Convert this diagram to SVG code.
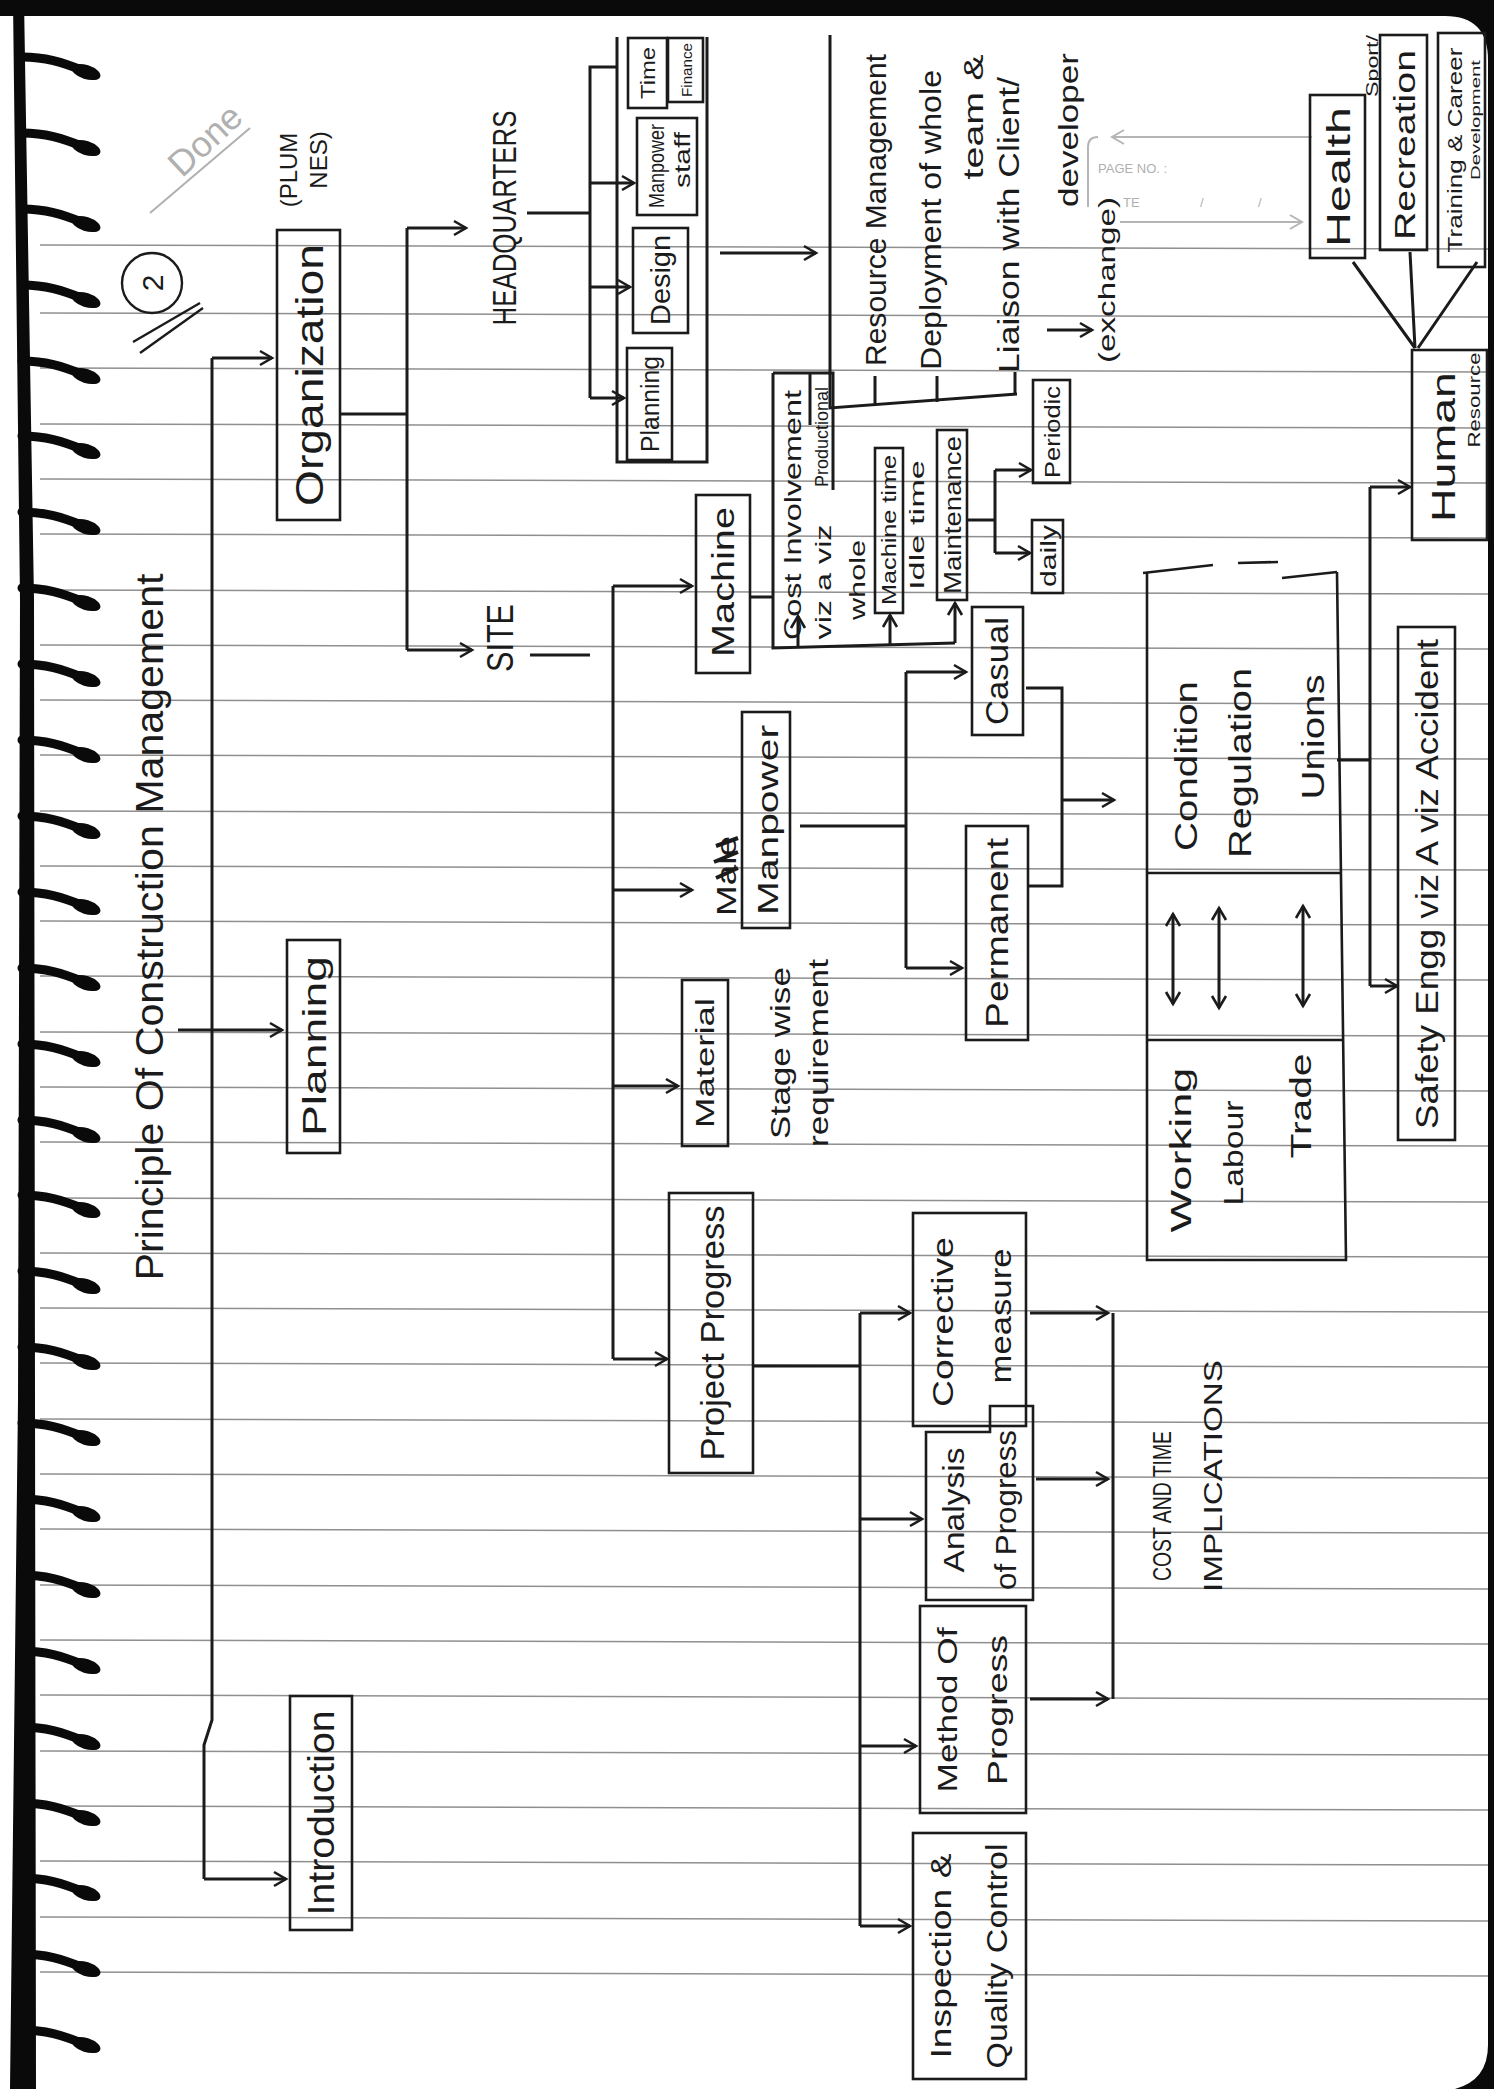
<svg xmlns="http://www.w3.org/2000/svg" width="1494" height="2089" viewBox="0 0 1494 2089">
<style>
.t{font-family:"Liberation Sans",Arial,sans-serif;fill:#1b1b1b;text-anchor:middle;dominant-baseline:central}
.b{fill:none;stroke:#1b1b1b;stroke-width:2.6}
.c{fill:none;stroke:#1b1b1b;stroke-width:3}
.a{marker-end:url(#ah)}
.d{marker-start:url(#ah2);marker-end:url(#ah)}
.rule{stroke:#8f8f8f;stroke-width:1.5}
.faint{fill:none;stroke:#b5b5b5;stroke-width:2}
.ft{font-family:"Liberation Sans",Arial,sans-serif;fill:#b0b0b0}
.ring{fill:none;stroke:#0a0a0a;stroke-width:9;stroke-linecap:round}
.blob{fill:#0a0a0a}
</style>
<defs>
<marker id="ah" markerUnits="userSpaceOnUse" markerWidth="18" markerHeight="18" refX="15" refY="9" orient="auto">
<path d="M3,2 L15,9 L3,16" fill="none" stroke="#1b1b1b" stroke-width="2.6"/>
</marker>
<marker id="ah2" markerUnits="userSpaceOnUse" markerWidth="18" markerHeight="18" refX="15" refY="9" orient="auto-start-reverse">
<path d="M3,2 L15,9 L3,16" fill="none" stroke="#1b1b1b" stroke-width="2.6"/>
</marker>
<marker id="ahg" markerUnits="userSpaceOnUse" markerWidth="18" markerHeight="18" refX="15" refY="9" orient="auto">
<path d="M3,2 L15,9 L3,16" fill="none" stroke="#b5b5b5" stroke-width="2"/>
</marker>
<g id="ringshape">
<path class="ring" d="M22,0 C45,0 62,5 84,14"/>
<ellipse class="blob" cx="86" cy="15" rx="15" ry="7" transform="rotate(18 86 15)"/>
</g>
</defs>

<!-- page -->
<rect x="0" y="0" width="1494" height="2089" fill="#ffffff"/>
<path d="M0,0 H1494 V2089 H1455 Q1488,2080 1488,2045 V60 Q1488,16 1445,16 H0 Z" fill="#0a0a0a"/>
<path d="M13,0 H24 L34,600 L35,1400 L36,2089 H10 L18,1400 L20,600 Z" fill="#0a0a0a"/>

<!-- ruled lines -->
<g id="rules">
<line class="rule" x1="40" y1="245" x2="1488" y2="249"/>
<line class="rule" x1="40" y1="313" x2="1488" y2="317"/>
<line class="rule" x1="40" y1="368" x2="1488" y2="372"/>
<line class="rule" x1="40" y1="424" x2="1488" y2="428"/>
<line class="rule" x1="40" y1="479" x2="1488" y2="483"/>
<line class="rule" x1="40" y1="534" x2="1488" y2="538"/>
<line class="rule" x1="40" y1="590" x2="1488" y2="594"/>
<line class="rule" x1="40" y1="645" x2="1488" y2="649"/>
<line class="rule" x1="40" y1="700" x2="1488" y2="704"/>
<line class="rule" x1="40" y1="755" x2="1488" y2="759"/>
<line class="rule" x1="40" y1="811" x2="1488" y2="815"/>
<line class="rule" x1="40" y1="866" x2="1488" y2="870"/>
<line class="rule" x1="40" y1="921" x2="1488" y2="925"/>
<line class="rule" x1="40" y1="976" x2="1488" y2="980"/>
<line class="rule" x1="40" y1="1032" x2="1488" y2="1036"/>
<line class="rule" x1="40" y1="1087" x2="1488" y2="1091"/>
<line class="rule" x1="40" y1="1142" x2="1488" y2="1146"/>
<line class="rule" x1="40" y1="1198" x2="1488" y2="1202"/>
<line class="rule" x1="40" y1="1253" x2="1488" y2="1257"/>
<line class="rule" x1="40" y1="1308" x2="1488" y2="1312"/>
<line class="rule" x1="40" y1="1363" x2="1488" y2="1367"/>
<line class="rule" x1="40" y1="1419" x2="1488" y2="1423"/>
<line class="rule" x1="40" y1="1474" x2="1488" y2="1478"/>
<line class="rule" x1="40" y1="1529" x2="1488" y2="1533"/>
<line class="rule" x1="40" y1="1585" x2="1488" y2="1589"/>
<line class="rule" x1="40" y1="1640" x2="1488" y2="1644"/>
<line class="rule" x1="40" y1="1695" x2="1488" y2="1699"/>
<line class="rule" x1="40" y1="1751" x2="1488" y2="1755"/>
<line class="rule" x1="40" y1="1806" x2="1488" y2="1810"/>
<line class="rule" x1="40" y1="1861" x2="1488" y2="1865"/>
<line class="rule" x1="40" y1="1917" x2="1488" y2="1921"/>
<line class="rule" x1="40" y1="1972" x2="1488" y2="1976"/>
</g>

<!-- spiral rings -->
<g id="spiral">
<use href="#ringshape" y="57"/>
<use href="#ringshape" y="133"/>
<use href="#ringshape" y="209"/>
<use href="#ringshape" y="285"/>
<use href="#ringshape" y="361"/>
<use href="#ringshape" y="436"/>
<use href="#ringshape" y="512"/>
<use href="#ringshape" y="588"/>
<use href="#ringshape" y="664"/>
<use href="#ringshape" y="740"/>
<use href="#ringshape" y="816"/>
<use href="#ringshape" y="892"/>
<use href="#ringshape" y="968"/>
<use href="#ringshape" y="1044"/>
<use href="#ringshape" y="1120"/>
<use href="#ringshape" y="1195"/>
<use href="#ringshape" y="1271"/>
<use href="#ringshape" y="1347"/>
<use href="#ringshape" y="1423"/>
<use href="#ringshape" y="1499"/>
<use href="#ringshape" y="1575"/>
<use href="#ringshape" y="1651"/>
<use href="#ringshape" y="1727"/>
<use href="#ringshape" y="1803"/>
<use href="#ringshape" y="1878"/>
<use href="#ringshape" y="1954"/>
<use href="#ringshape" y="2030"/>
</g>

<!-- page header marks -->
<g id="header">
<text class="ft" x="205" y="140" font-size="36" text-anchor="middle" dominant-baseline="central" transform="rotate(-43 205 140)">Done</text>
<line x1="150" y1="213" x2="250" y2="128" stroke="#b0b0b0" stroke-width="2"/>
<circle cx="152" cy="283" r="30" fill="none" stroke="#1b1b1b" stroke-width="2.4"/>
<text class="t" transform="translate(152,283) rotate(-90)" font-size="30">2</text>
<line x1="133" y1="342" x2="200" y2="303" stroke="#1b1b1b" stroke-width="2.4"/>
<line x1="140" y1="353" x2="203" y2="308" stroke="#1b1b1b" stroke-width="2.4"/>
<path class="faint" d="M1098,137 Q1088,137 1088,147 V207"/>
<text class="ft" x="1098" y="173" font-size="13">PAGE NO. :</text>
<text class="ft" x="1123" y="207" font-size="13">TE</text>
<text class="ft" x="1200" y="207" font-size="13">/</text>
<text class="ft" x="1258" y="207" font-size="13">/</text>
</g>

<!-- connectors -->
<g id="connectors">
<path class="c a" d="M212,358 H272"/>
<path class="c" d="M212,358 V1720 L204,1745 V1879"/>
<path class="c a" d="M204,1879 H286"/>
<path class="c a" d="M178,1030 H282"/>
<path class="c" d="M340,414 H407"/>
<path class="c" d="M407,228 V650"/>
<path class="c a" d="M407,228 H466"/>
<path class="c a" d="M407,650 H472"/>
<path class="c" d="M527,213 H590"/>
<path class="c" d="M616,67 H590 V398"/>
<path class="c a" d="M590,183 H634"/>
<path class="c a" d="M590,287 H630"/>
<path class="c a" d="M590,398 H624"/>
<path class="c" d="M617,37 V462 H707 V37"/>
<path class="c a" d="M720,253 H816"/>
<path class="c" d="M830,35 V408 L1017,394"/>
<path class="c" d="M875,406 V376 M937,402 V376 M1015,394 V372"/>
<path class="c a" d="M1047,330 H1092"/>
<path class="faint" d="M1312,137 H1112" marker-end="url(#ahg)"/>
<path class="faint" d="M1120,222 H1302" marker-end="url(#ahg)"/>
<path class="c" d="M1353,262 L1415,348 M1410,252 L1415,348 M1477,262 L1418,348"/>
<path class="c a" d="M1370,487 H1410"/>
<path class="c" d="M1370,487 V986 M1337,760 H1370"/>
<path class="c a" d="M1370,986 H1397"/>
<path class="c" d="M530,655 H590"/>
<path class="c" d="M613,586 V1359"/>
<path class="c a" d="M613,586 H692"/>
<path class="c a" d="M613,890 H692"/>
<path class="c a" d="M613,1086 H678"/>
<path class="c a" d="M613,1359 H667"/>
<path class="c" d="M750,597 H773 M773,373 V648 L955,643"/>
<path class="c" d="M773,373 H833 V490 M810,373 V425"/>
<path class="c a" d="M798,647 V616"/>
<path class="c a" d="M890,645 V615"/>
<path class="c a" d="M955,643 V603"/>
<path class="c" d="M967,520 H995 M995,470 V553"/>
<path class="c a" d="M995,470 H1031"/>
<path class="c a" d="M995,553 H1030"/>
<path class="c" d="M800,826 H906 M906,672 V968"/>
<path class="c a" d="M906,672 H966"/>
<path class="c a" d="M906,968 H962"/>
<path class="c" d="M1026,688 H1062 V886 H1028"/>
<path class="c a" d="M1062,800 H1114"/>
<path class="c" d="M753,1366 H860 M860,1313 V1926"/>
<path class="c a" d="M860,1313 H910"/>
<path class="c a" d="M860,1519 H922"/>
<path class="c a" d="M860,1746 H916"/>
<path class="c a" d="M860,1926 H910"/>
<path class="c a" d="M1030,1313 H1108"/>
<path class="c a" d="M1036,1479 H1108"/>
<path class="c a" d="M1030,1699 H1108"/>
<path class="c" d="M1113,1313 V1699"/>
<path class="c d" d="M1173,914 V1004"/>
<path class="c d" d="M1219,908 V1008"/>
<path class="c d" d="M1303,906 V1006"/>
</g>

<!-- nodes -->
<g id="title">
<text class="t" transform="translate(150,927) rotate(-90)" font-size="38" textLength="707" lengthAdjust="spacingAndGlyphs">Principle Of Construction Management</text>
</g>
<g id="plum-nes">
<text class="t" transform="translate(288,170) rotate(-90)" font-size="24">(PLUM</text>
<text class="t" transform="translate(318,160) rotate(-90)" font-size="24">NES)</text>
</g>
<g id="organization">
<rect class="b" x="277" y="230" width="63" height="290"/>
<text class="t" transform="translate(310,375) rotate(-90)" font-size="38" textLength="262" lengthAdjust="spacingAndGlyphs">Organization</text>
</g>
<g id="planning">
<rect class="b" x="287" y="940" width="53" height="213"/>
<text class="t" transform="translate(314,1046) rotate(-90)" font-size="34" textLength="180" lengthAdjust="spacingAndGlyphs">Planning</text>
</g>
<g id="introduction">
<rect class="b" x="290" y="1696" width="62" height="234"/>
<text class="t" transform="translate(321,1813) rotate(-90)" font-size="36" textLength="205" lengthAdjust="spacingAndGlyphs">Introduction</text>
</g>
<g id="headquarters">
<text class="t" transform="translate(504,218) rotate(-90)" font-size="34" textLength="215" lengthAdjust="spacingAndGlyphs">HEADQUARTERS</text>
</g>
<g id="hq-time">
<rect class="b" x="628" y="38" width="39" height="70"/>
<text class="t" transform="translate(648,73) rotate(-90)" font-size="20" textLength="52" lengthAdjust="spacingAndGlyphs">Time</text>
</g>
<g id="hq-finance">
<rect class="b" x="668" y="38" width="35" height="64"/>
<text class="t" transform="translate(686,70) rotate(-90)" font-size="15" textLength="54" lengthAdjust="spacingAndGlyphs">Finance</text>
</g>
<g id="hq-manpower">
<rect class="b" x="637" y="118" width="60" height="97"/>
<text class="t" transform="translate(656,166) rotate(-90)" font-size="22" textLength="84" lengthAdjust="spacingAndGlyphs">Manpower</text>
<text class="t" transform="translate(682,160) rotate(-90)" font-size="22" textLength="56" lengthAdjust="spacingAndGlyphs">staff</text>
</g>
<g id="hq-design">
<rect class="b" x="633" y="228" width="55" height="105"/>
<text class="t" transform="translate(660,280) rotate(-90)" font-size="28" textLength="90" lengthAdjust="spacingAndGlyphs">Design</text>
</g>
<g id="hq-planning">
<rect class="b" x="627" y="348" width="45" height="112"/>
<text class="t" transform="translate(650,404) rotate(-90)" font-size="26" textLength="96" lengthAdjust="spacingAndGlyphs">Planning</text>
</g>
<g id="hq-functions">
<text class="t" transform="translate(875,210) rotate(-90)" font-size="30" textLength="312" lengthAdjust="spacingAndGlyphs">Resource Management</text>
<text class="t" transform="translate(930,220) rotate(-90)" font-size="30" textLength="300" lengthAdjust="spacingAndGlyphs">Deployment of whole</text>
<text class="t" transform="translate(973,117) rotate(-90)" font-size="28" textLength="125" lengthAdjust="spacingAndGlyphs">team &amp;</text>
<text class="t" transform="translate(1008,225) rotate(-90)" font-size="30" textLength="296" lengthAdjust="spacingAndGlyphs">Liaison with Client/</text>
<text class="t" transform="translate(1068,130) rotate(-90)" font-size="28" textLength="154" lengthAdjust="spacingAndGlyphs">developer</text>
<text class="t" transform="translate(1106,280) rotate(-90)" font-size="24" textLength="166" lengthAdjust="spacingAndGlyphs">(exchange)</text>
</g>
<g id="health">
<rect class="b" x="1310" y="95" width="55" height="163"/>
<text class="t" transform="translate(1338,177) rotate(-90)" font-size="34" textLength="140" lengthAdjust="spacingAndGlyphs">Health</text>
</g>
<g id="recreation">
<rect class="b" x="1380" y="35" width="47" height="215"/>
<text class="t" transform="translate(1404,145) rotate(-90)" font-size="30" textLength="190" lengthAdjust="spacingAndGlyphs">Recreation</text>
<text class="t" transform="translate(1372,66) rotate(-90)" font-size="16" textLength="62" lengthAdjust="spacingAndGlyphs">Sport/</text>
</g>
<g id="training">
<rect class="b" x="1438" y="33" width="47" height="234"/>
<text class="t" transform="translate(1455,150) rotate(-90)" font-size="20" textLength="205" lengthAdjust="spacingAndGlyphs">Training &amp; Career</text>
<text class="t" transform="translate(1475,120) rotate(-90)" font-size="13" textLength="120" lengthAdjust="spacingAndGlyphs">Development</text>
</g>
<g id="human-resource">
<rect class="b" x="1412" y="350" width="75" height="190"/>
<text class="t" transform="translate(1443,447) rotate(-90)" font-size="34" textLength="150" lengthAdjust="spacingAndGlyphs">Human</text>
<text class="t" transform="translate(1474,400) rotate(-90)" font-size="16" textLength="95" lengthAdjust="spacingAndGlyphs">Resource</text>
</g>
<g id="site">
<text class="t" transform="translate(500,638) rotate(-90)" font-size="36" textLength="68" lengthAdjust="spacingAndGlyphs">SITE</text>
</g>
<g id="machine">
<rect class="b" x="696" y="495" width="54" height="178"/>
<text class="t" transform="translate(723,582) rotate(-90)" font-size="32" textLength="150" lengthAdjust="spacingAndGlyphs">Machine</text>
</g>
<g id="cost-involvement">
<text class="t" transform="translate(792,515) rotate(-90)" font-size="24" textLength="250" lengthAdjust="spacingAndGlyphs">Cost Involvement</text>
<text class="t" transform="translate(823,582) rotate(-90)" font-size="22" textLength="115" lengthAdjust="spacingAndGlyphs">viz a viz</text>
<text class="t" transform="translate(822,437) rotate(-90)" font-size="18" textLength="100" lengthAdjust="spacingAndGlyphs">Productional</text>
<text class="t" transform="translate(857,580) rotate(-90)" font-size="22" textLength="80" lengthAdjust="spacingAndGlyphs">whole</text>
</g>
<g id="machine-time">
<rect class="b" x="875" y="448" width="28" height="165"/>
<text class="t" transform="translate(889,530) rotate(-90)" font-size="20" textLength="150" lengthAdjust="spacingAndGlyphs">Machine time</text>
<text class="t" transform="translate(917,525) rotate(-90)" font-size="20" textLength="130" lengthAdjust="spacingAndGlyphs">Idle time</text>
</g>
<g id="maintenance">
<rect class="b" x="937" y="430" width="30" height="170"/>
<text class="t" transform="translate(952,515) rotate(-90)" font-size="24" textLength="158" lengthAdjust="spacingAndGlyphs">Maintenance</text>
</g>
<g id="periodic">
<rect class="b" x="1033" y="380" width="37" height="103"/>
<text class="t" transform="translate(1052,432) rotate(-90)" font-size="22" textLength="92" lengthAdjust="spacingAndGlyphs">Periodic</text>
</g>
<g id="daily">
<rect class="b" x="1032" y="520" width="31" height="73"/>
<text class="t" transform="translate(1048,556) rotate(-90)" font-size="22" textLength="62" lengthAdjust="spacingAndGlyphs">daily</text>
</g>
<g id="manpower">
<rect class="b" x="742" y="712" width="48" height="216"/>
<text class="t" transform="translate(767,820) rotate(-90)" font-size="30" textLength="190" lengthAdjust="spacingAndGlyphs">Manpower</text>
<text class="t" transform="translate(726,876) rotate(-90)" font-size="28" textLength="80" lengthAdjust="spacingAndGlyphs">Male</text>
<path d="M716,846 L738,838 M714,862 L738,852 M716,878 L738,868" stroke="#1b1b1b" stroke-width="4" fill="none"/>
</g>
<g id="casual">
<rect class="b" x="972" y="607" width="51" height="128"/>
<text class="t" transform="translate(997,671) rotate(-90)" font-size="32" textLength="108" lengthAdjust="spacingAndGlyphs">Casual</text>
</g>
<g id="permanent">
<rect class="b" x="966" y="826" width="62" height="214"/>
<text class="t" transform="translate(997,933) rotate(-90)" font-size="32" textLength="190" lengthAdjust="spacingAndGlyphs">Permanent</text>
</g>
<g id="condition-labour">
<path class="b" d="M1143,573 L1213,565 M1238,563 L1278,562 M1282,578 L1337,572"/>
<path class="b" d="M1147,573 V1260 H1346 L1337,572"/>
<path class="b" d="M1147,873 H1342 M1147,1040 H1344"/>
<text class="t" transform="translate(1186,766) rotate(-90)" font-size="32" textLength="170" lengthAdjust="spacingAndGlyphs">Condition</text>
<text class="t" transform="translate(1240,763) rotate(-90)" font-size="32" textLength="190" lengthAdjust="spacingAndGlyphs">Regulation</text>
<text class="t" transform="translate(1313,737) rotate(-90)" font-size="32" textLength="125" lengthAdjust="spacingAndGlyphs">Unions</text>
<text class="t" transform="translate(1180,1150) rotate(-90)" font-size="30" textLength="165" lengthAdjust="spacingAndGlyphs">Working</text>
<text class="t" transform="translate(1233,1153) rotate(-90)" font-size="28" textLength="105" lengthAdjust="spacingAndGlyphs">Labour</text>
<text class="t" transform="translate(1300,1106) rotate(-90)" font-size="30" textLength="105" lengthAdjust="spacingAndGlyphs">Trade</text>
</g>
<g id="safety">
<rect class="b" x="1398" y="627" width="57" height="513"/>
<text class="t" transform="translate(1427,884) rotate(-90)" font-size="32" textLength="490" lengthAdjust="spacingAndGlyphs">Safety Engg viz A viz Accident</text>
</g>
<g id="material">
<rect class="b" x="682" y="980" width="46" height="166"/>
<text class="t" transform="translate(705,1063) rotate(-90)" font-size="26" textLength="130" lengthAdjust="spacingAndGlyphs">Material</text>
<text class="t" transform="translate(780,1053) rotate(-90)" font-size="28" textLength="172" lengthAdjust="spacingAndGlyphs">Stage wise</text>
<text class="t" transform="translate(818,1053) rotate(-90)" font-size="28" textLength="188" lengthAdjust="spacingAndGlyphs">requirement</text>
</g>
<g id="project-progress">
<rect class="b" x="669" y="1193" width="84" height="280"/>
<text class="t" transform="translate(712,1333) rotate(-90)" font-size="34" textLength="255" lengthAdjust="spacingAndGlyphs">Project Progress</text>
</g>
<g id="corrective">
<rect class="b" x="913" y="1213" width="113" height="213"/>
<text class="t" transform="translate(942,1322) rotate(-90)" font-size="30" textLength="170" lengthAdjust="spacingAndGlyphs">Corrective</text>
<text class="t" transform="translate(1000,1316) rotate(-90)" font-size="30" textLength="135" lengthAdjust="spacingAndGlyphs">measure</text>
</g>
<g id="analysis">
<path class="b" d="M926,1600 V1432 H990 V1406 H1033 V1600 Z"/>
<text class="t" transform="translate(953,1510) rotate(-90)" font-size="30" textLength="125" lengthAdjust="spacingAndGlyphs">Analysis</text>
<text class="t" transform="translate(1005,1510) rotate(-90)" font-size="30" textLength="160" lengthAdjust="spacingAndGlyphs">of Progress</text>
</g>
<g id="method">
<rect class="b" x="920" y="1606" width="106" height="207"/>
<text class="t" transform="translate(947,1710) rotate(-90)" font-size="28" textLength="165" lengthAdjust="spacingAndGlyphs">Method Of</text>
<text class="t" transform="translate(997,1710) rotate(-90)" font-size="28" textLength="150" lengthAdjust="spacingAndGlyphs">Progress</text>
</g>
<g id="inspection">
<rect class="b" x="913" y="1833" width="113" height="246"/>
<text class="t" transform="translate(940,1956) rotate(-90)" font-size="30" textLength="205" lengthAdjust="spacingAndGlyphs">Inspection &amp;</text>
<text class="t" transform="translate(996,1956) rotate(-90)" font-size="30" textLength="225" lengthAdjust="spacingAndGlyphs">Quality Control</text>
</g>
<g id="cost-time">
<text class="t" transform="translate(1162,1506) rotate(-90)" font-size="26" textLength="150" lengthAdjust="spacingAndGlyphs">COST AND TIME</text>
<text class="t" transform="translate(1213,1476) rotate(-90)" font-size="26" textLength="232" lengthAdjust="spacingAndGlyphs">IMPLICATIONS</text>
</g>
</svg>
